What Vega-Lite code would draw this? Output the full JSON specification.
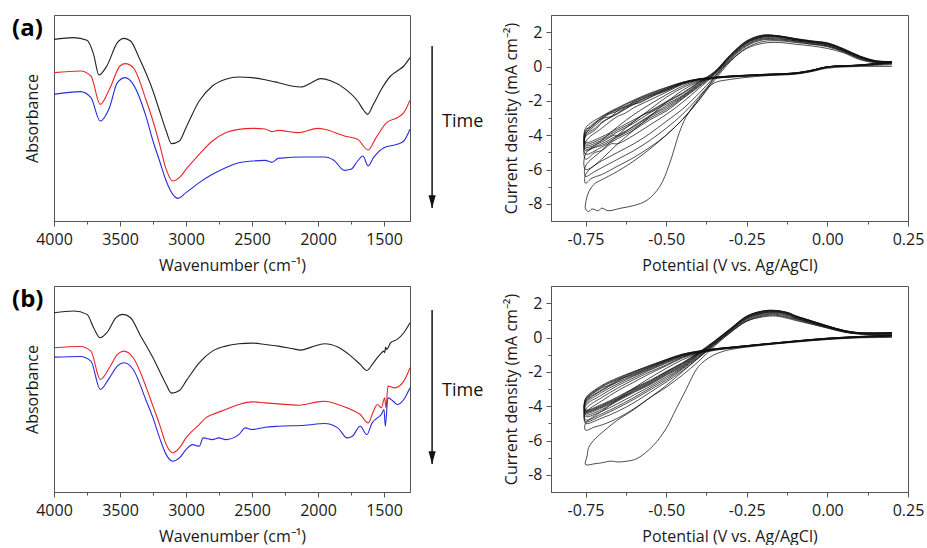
{
"$schema":"https://vega.github.io/schema/vega-lite/v6.json",
"autosize":{"type":"pad"},
"padding":{"left":12,"top":14,"right":0,"bottom":0},
"background":"white",
"config":{
"font":"Open Sans",
"view":{"stroke":"#555","strokeWidth":1},
"axis":{"domainColor":"#555","tickColor":"#555","labelColor":"#1a1a1a","titleColor":"#1a1a1a","labelFontSize":16,"titleFontSize":16,"titleFontWeight":"normal","grid":false,"labelOverlap":false,"labelFlush":false,"tickWidth":1,"domainWidth":1,"labelFont":"Open Sans","titleFont":"Open Sans"}
},
"datasets":{
"irA":[
{"s":"t1","w":4000,"a":545},{"s":"t1","w":3850,"a":550},{"s":"t1","w":3750,"a":542},{"s":"t1","w":3700,"a":500},{"s":"t1","w":3660,"a":438},{"s":"t1","w":3600,"a":465},{"s":"t1","w":3520,"a":535},{"s":"t1","w":3470,"a":548},{"s":"t1","w":3420,"a":540},{"s":"t1","w":3350,"a":485},{"s":"t1","w":3250,"a":390},{"s":"t1","w":3200,"a":330},{"s":"t1","w":3150,"a":270},{"s":"t1","w":3110,"a":232},{"s":"t1","w":3050,"a":240},{"s":"t1","w":3000,"a":280},{"s":"t1","w":2900,"a":360},{"s":"t1","w":2800,"a":405},{"s":"t1","w":2700,"a":425},{"s":"t1","w":2600,"a":432},{"s":"t1","w":2500,"a":430},{"s":"t1","w":2400,"a":424},{"s":"t1","w":2300,"a":415},{"s":"t1","w":2200,"a":405},{"s":"t1","w":2130,"a":402},{"s":"t1","w":2050,"a":415},{"s":"t1","w":1980,"a":427},{"s":"t1","w":1900,"a":420},{"s":"t1","w":1800,"a":398},{"s":"t1","w":1700,"a":360},{"s":"t1","w":1650,"a":330},{"s":"t1","w":1625,"a":320},{"s":"t1","w":1580,"a":350},{"s":"t1","w":1520,"a":395},{"s":"t1","w":1450,"a":435},{"s":"t1","w":1400,"a":450},{"s":"t1","w":1350,"a":465},{"s":"t1","w":1303,"a":490},
{"s":"t2","w":4000,"a":445},{"s":"t2","w":3800,"a":450},{"s":"t2","w":3720,"a":435},{"s":"t2","w":3650,"a":350},{"s":"t2","w":3580,"a":395},{"s":"t2","w":3500,"a":465},{"s":"t2","w":3460,"a":472},{"s":"t2","w":3400,"a":460},{"s":"t2","w":3300,"a":360},{"s":"t2","w":3250,"a":300},{"s":"t2","w":3200,"a":230},{"s":"t2","w":3150,"a":155},{"s":"t2","w":3100,"a":120},{"s":"t2","w":3050,"a":130},{"s":"t2","w":3000,"a":155},{"s":"t2","w":2900,"a":200},{"s":"t2","w":2800,"a":240},{"s":"t2","w":2700,"a":265},{"s":"t2","w":2600,"a":275},{"s":"t2","w":2500,"a":278},{"s":"t2","w":2400,"a":276},{"s":"t2","w":2350,"a":268},{"s":"t2","w":2300,"a":272},{"s":"t2","w":2150,"a":265},{"s":"t2","w":2000,"a":278},{"s":"t2","w":1950,"a":275},{"s":"t2","w":1800,"a":255},{"s":"t2","w":1700,"a":245},{"s":"t2","w":1620,"a":213},{"s":"t2","w":1560,"a":250},{"s":"t2","w":1480,"a":295},{"s":"t2","w":1400,"a":310},{"s":"t2","w":1350,"a":325},{"s":"t2","w":1303,"a":362},
{"s":"t3","w":4000,"a":380},{"s":"t3","w":3800,"a":388},{"s":"t3","w":3720,"a":370},{"s":"t3","w":3650,"a":300},{"s":"t3","w":3580,"a":340},{"s":"t3","w":3520,"a":415},{"s":"t3","w":3460,"a":430},{"s":"t3","w":3400,"a":410},{"s":"t3","w":3300,"a":310},{"s":"t3","w":3250,"a":240},{"s":"t3","w":3200,"a":180},{"s":"t3","w":3150,"a":120},{"s":"t3","w":3100,"a":80},{"s":"t3","w":3060,"a":68},{"s":"t3","w":3000,"a":85},{"s":"t3","w":2900,"a":115},{"s":"t3","w":2800,"a":140},{"s":"t3","w":2700,"a":160},{"s":"t3","w":2600,"a":175},{"s":"t3","w":2500,"a":180},{"s":"t3","w":2400,"a":182},{"s":"t3","w":2350,"a":176},{"s":"t3","w":2300,"a":188},{"s":"t3","w":2100,"a":192},{"s":"t3","w":1950,"a":192},{"s":"t3","w":1880,"a":182},{"s":"t3","w":1800,"a":152},{"s":"t3","w":1750,"a":155},{"s":"t3","w":1700,"a":180},{"s":"t3","w":1660,"a":195},{"s":"t3","w":1620,"a":165},{"s":"t3","w":1580,"a":190},{"s":"t3","w":1500,"a":220},{"s":"t3","w":1400,"a":230},{"s":"t3","w":1350,"a":240},{"s":"t3","w":1303,"a":275}
],
"irB":[
{"s":"t1","w":4000,"a":537},{"s":"t1","w":3850,"a":542},{"s":"t1","w":3750,"a":532},{"s":"t1","w":3700,"a":492},{"s":"t1","w":3650,"a":462},{"s":"t1","w":3600,"a":477},{"s":"t1","w":3530,"a":522},{"s":"t1","w":3480,"a":532},{"s":"t1","w":3420,"a":522},{"s":"t1","w":3350,"a":472},{"s":"t1","w":3250,"a":402},{"s":"t1","w":3200,"a":362},{"s":"t1","w":3150,"a":322},{"s":"t1","w":3110,"a":296},{"s":"t1","w":3050,"a":304},{"s":"t1","w":3000,"a":332},{"s":"t1","w":2900,"a":387},{"s":"t1","w":2800,"a":422},{"s":"t1","w":2700,"a":437},{"s":"t1","w":2600,"a":444},{"s":"t1","w":2500,"a":446},{"s":"t1","w":2400,"a":442},{"s":"t1","w":2300,"a":437},{"s":"t1","w":2200,"a":430},{"s":"t1","w":2130,"a":425},{"s":"t1","w":2050,"a":434},{"s":"t1","w":1950,"a":444},{"s":"t1","w":1850,"a":434},{"s":"t1","w":1750,"a":407},{"s":"t1","w":1680,"a":382},{"s":"t1","w":1630,"a":364},{"s":"t1","w":1580,"a":387},{"s":"t1","w":1530,"a":412},{"s":"t1","w":1500,"a":422},{"s":"t1","w":1495,"a":417},{"s":"t1","w":1488,"a":434},{"s":"t1","w":1480,"a":427},{"s":"t1","w":1450,"a":447},{"s":"t1","w":1400,"a":457},{"s":"t1","w":1350,"a":477},{"s":"t1","w":1303,"a":507},
{"s":"t2","w":4000,"a":432},{"s":"t2","w":3800,"a":436},{"s":"t2","w":3720,"a":422},{"s":"t2","w":3650,"a":337},{"s":"t2","w":3580,"a":372},{"s":"t2","w":3520,"a":412},{"s":"t2","w":3470,"a":422},{"s":"t2","w":3400,"a":402},{"s":"t2","w":3300,"a":312},{"s":"t2","w":3250,"a":257},{"s":"t2","w":3200,"a":202},{"s":"t2","w":3150,"a":142},{"s":"t2","w":3100,"a":117},{"s":"t2","w":3050,"a":132},{"s":"t2","w":3000,"a":162},{"s":"t2","w":2900,"a":202},{"s":"t2","w":2850,"a":222},{"s":"t2","w":2800,"a":232},{"s":"t2","w":2700,"a":247},{"s":"t2","w":2600,"a":262},{"s":"t2","w":2500,"a":270},{"s":"t2","w":2400,"a":267},{"s":"t2","w":2300,"a":264},{"s":"t2","w":2150,"a":260},{"s":"t2","w":2000,"a":270},{"s":"t2","w":1950,"a":272},{"s":"t2","w":1850,"a":262},{"s":"t2","w":1750,"a":247},{"s":"t2","w":1680,"a":232},{"s":"t2","w":1620,"a":207},{"s":"t2","w":1580,"a":242},{"s":"t2","w":1550,"a":262},{"s":"t2","w":1520,"a":252},{"s":"t2","w":1495,"a":282},{"s":"t2","w":1485,"a":252},{"s":"t2","w":1470,"a":317},{"s":"t2","w":1420,"a":312},{"s":"t2","w":1350,"a":332},{"s":"t2","w":1303,"a":372},
{"s":"t3","w":4000,"a":404},{"s":"t3","w":3800,"a":406},{"s":"t3","w":3720,"a":392},{"s":"t3","w":3650,"a":307},{"s":"t3","w":3580,"a":342},{"s":"t3","w":3520,"a":377},{"s":"t3","w":3470,"a":387},{"s":"t3","w":3400,"a":367},{"s":"t3","w":3300,"a":272},{"s":"t3","w":3250,"a":222},{"s":"t3","w":3200,"a":162},{"s":"t3","w":3150,"a":112},{"s":"t3","w":3100,"a":92},{"s":"t3","w":3050,"a":102},{"s":"t3","w":3000,"a":127},{"s":"t3","w":2950,"a":142},{"s":"t3","w":2900,"a":137},{"s":"t3","w":2870,"a":162},{"s":"t3","w":2800,"a":157},{"s":"t3","w":2750,"a":162},{"s":"t3","w":2700,"a":157},{"s":"t3","w":2600,"a":172},{"s":"t3","w":2550,"a":192},{"s":"t3","w":2500,"a":187},{"s":"t3","w":2400,"a":194},{"s":"t3","w":2300,"a":197},{"s":"t3","w":2100,"a":200},{"s":"t3","w":1950,"a":205},{"s":"t3","w":1850,"a":192},{"s":"t3","w":1780,"a":162},{"s":"t3","w":1740,"a":167},{"s":"t3","w":1680,"a":197},{"s":"t3","w":1630,"a":172},{"s":"t3","w":1590,"a":207},{"s":"t3","w":1550,"a":222},{"s":"t3","w":1520,"a":232},{"s":"t3","w":1500,"a":247},{"s":"t3","w":1490,"a":197},{"s":"t3","w":1470,"a":282},{"s":"t3","w":1430,"a":272},{"s":"t3","w":1400,"a":262},{"s":"t3","w":1350,"a":277},{"s":"t3","w":1303,"a":312}
],
"cvA":[
{"c":1,"E":0.2,"j":0},{"c":1,"E":0.1,"j":0},{"c":1,"E":0,"j":-0.1},{"c":1,"E":-0.05,"j":-0.3},{"c":1,"E":-0.1,"j":-0.45},{"c":1,"E":-0.2,"j":-0.55},{"c":1,"E":-0.3,"j":-0.75},{"c":1,"E":-0.35,"j":-0.95},{"c":1,"E":-0.38,"j":-1.4},{"c":1,"E":-0.4,"j":-1.9},{"c":1,"E":-0.42,"j":-2.4},{"c":1,"E":-0.44,"j":-3.0},{"c":1,"E":-0.46,"j":-3.9},{"c":1,"E":-0.49,"j":-5.7},{"c":1,"E":-0.52,"j":-7.0},{"c":1,"E":-0.56,"j":-7.8},{"c":1,"E":-0.6,"j":-8.1},{"c":1,"E":-0.64,"j":-8.25},{"c":1,"E":-0.68,"j":-8.4},{"c":1,"E":-0.7,"j":-8.25},{"c":1,"E":-0.71,"j":-8.4},{"c":1,"E":-0.73,"j":-8.3},{"c":1,"E":-0.74,"j":-8.45},{"c":1,"E":-0.75,"j":-8.3},{"c":1,"E":-0.748,"j":-7.8},{"c":1,"E":-0.74,"j":-7.3},{"c":1,"E":-0.73,"j":-7.0},{"c":1,"E":-0.72,"j":-6.8},{"c":1,"E":-0.7,"j":-6.6},{"c":1,"E":-0.65,"j":-6.1},{"c":1,"E":-0.6,"j":-5.5},{"c":1,"E":-0.55,"j":-4.8},{"c":1,"E":-0.5,"j":-4.0},{"c":1,"E":-0.45,"j":-3.1},{"c":1,"E":-0.4,"j":-2.0},{"c":1,"E":-0.37,"j":-1.2},{"c":1,"E":-0.35,"j":-0.6},{"c":1,"E":-0.3,"j":0.35},{"c":1,"E":-0.25,"j":1.05},{"c":1,"E":-0.2,"j":1.35},{"c":1,"E":-0.15,"j":1.4},{"c":1,"E":-0.1,"j":1.3},{"c":1,"E":-0.05,"j":1.2},{"c":1,"E":0,"j":1.05},{"c":1,"E":0.05,"j":0.8},{"c":1,"E":0.1,"j":0.4},{"c":1,"E":0.15,"j":0.22},{"c":1,"E":0.2,"j":0.2},
{"c":2,"E":0.2,"j":0.1},{"c":2,"E":0.1,"j":0.05},{"c":2,"E":0,"j":-0.05},{"c":2,"E":-0.05,"j":-0.28},{"c":2,"E":-0.1,"j":-0.42},{"c":2,"E":-0.2,"j":-0.52},{"c":2,"E":-0.3,"j":-0.62},{"c":2,"E":-0.35,"j":-0.7},{"c":2,"E":-0.4,"j":-0.9},{"c":2,"E":-0.45,"j":-1.4},{"c":2,"E":-0.5,"j":-2.1},{"c":2,"E":-0.55,"j":-2.9},{"c":2,"E":-0.6,"j":-3.7},{"c":2,"E":-0.65,"j":-4.5},{"c":2,"E":-0.7,"j":-5.4},{"c":2,"E":-0.75,"j":-6.3},{"c":2,"E":-0.75,"j":-6.8},{"c":2,"E":-0.73,"j":-6.5},{"c":2,"E":-0.7,"j":-6.3},{"c":2,"E":-0.65,"j":-5.8},{"c":2,"E":-0.6,"j":-5.3},{"c":2,"E":-0.55,"j":-4.7},{"c":2,"E":-0.5,"j":-4.0},{"c":2,"E":-0.45,"j":-3.1},{"c":2,"E":-0.4,"j":-2.0},{"c":2,"E":-0.35,"j":-0.8},{"c":2,"E":-0.3,"j":0.3},{"c":2,"E":-0.25,"j":1.1},{"c":2,"E":-0.2,"j":1.45},{"c":2,"E":-0.15,"j":1.5},{"c":2,"E":-0.1,"j":1.4},{"c":2,"E":-0.05,"j":1.3},{"c":2,"E":0,"j":1.15},{"c":2,"E":0.05,"j":0.85},{"c":2,"E":0.1,"j":0.45},{"c":2,"E":0.15,"j":0.25},{"c":2,"E":0.2,"j":0.22},
{"c":3,"E":0.2,"j":0.15},{"c":3,"E":0.1,"j":0.05},{"c":3,"E":0,"j":-0.05},{"c":3,"E":-0.05,"j":-0.27},{"c":3,"E":-0.1,"j":-0.42},{"c":3,"E":-0.2,"j":-0.5},{"c":3,"E":-0.3,"j":-0.6},{"c":3,"E":-0.35,"j":-0.68},{"c":3,"E":-0.4,"j":-0.85},{"c":3,"E":-0.45,"j":-1.25},{"c":3,"E":-0.5,"j":-1.8},{"c":3,"E":-0.55,"j":-2.5},{"c":3,"E":-0.6,"j":-3.2},{"c":3,"E":-0.65,"j":-4.0},{"c":3,"E":-0.7,"j":-4.9},{"c":3,"E":-0.75,"j":-5.8},{"c":3,"E":-0.75,"j":-6.4},{"c":3,"E":-0.72,"j":-6.1},{"c":3,"E":-0.7,"j":-5.9},{"c":3,"E":-0.65,"j":-5.4},{"c":3,"E":-0.6,"j":-4.9},{"c":3,"E":-0.55,"j":-4.3},{"c":3,"E":-0.5,"j":-3.6},{"c":3,"E":-0.45,"j":-2.8},{"c":3,"E":-0.4,"j":-1.8},{"c":3,"E":-0.35,"j":-0.7},{"c":3,"E":-0.3,"j":0.4},{"c":3,"E":-0.25,"j":1.2},{"c":3,"E":-0.2,"j":1.55},{"c":3,"E":-0.15,"j":1.55},{"c":3,"E":-0.1,"j":1.45},{"c":3,"E":-0.05,"j":1.3},{"c":3,"E":0,"j":1.2},{"c":3,"E":0.05,"j":0.88},{"c":3,"E":0.1,"j":0.48},{"c":3,"E":0.15,"j":0.25},{"c":3,"E":0.2,"j":0.22},
{"c":4,"E":0.2,"j":0.2},{"c":4,"E":0.1,"j":0.06},{"c":4,"E":0,"j":-0.04},{"c":4,"E":-0.05,"j":-0.26},{"c":4,"E":-0.1,"j":-0.41},{"c":4,"E":-0.2,"j":-0.5},{"c":4,"E":-0.3,"j":-0.6},{"c":4,"E":-0.35,"j":-0.67},{"c":4,"E":-0.4,"j":-0.8},{"c":4,"E":-0.45,"j":-1.15},{"c":4,"E":-0.5,"j":-1.65},{"c":4,"E":-0.55,"j":-2.2},{"c":4,"E":-0.6,"j":-2.8},{"c":4,"E":-0.65,"j":-3.5},{"c":4,"E":-0.7,"j":-4.3},{"c":4,"E":-0.75,"j":-5.1},{"c":4,"E":-0.75,"j":-6.0},{"c":4,"E":-0.7,"j":-5.5},{"c":4,"E":-0.65,"j":-5.0},{"c":4,"E":-0.6,"j":-4.5},{"c":4,"E":-0.55,"j":-3.9},{"c":4,"E":-0.5,"j":-3.2},{"c":4,"E":-0.45,"j":-2.5},{"c":4,"E":-0.4,"j":-1.6},{"c":4,"E":-0.35,"j":-0.6},{"c":4,"E":-0.3,"j":0.45},{"c":4,"E":-0.25,"j":1.25},{"c":4,"E":-0.2,"j":1.6},{"c":4,"E":-0.15,"j":1.6},{"c":4,"E":-0.1,"j":1.5},{"c":4,"E":-0.05,"j":1.35},{"c":4,"E":0,"j":1.2},{"c":4,"E":0.05,"j":0.9},{"c":4,"E":0.1,"j":0.5},{"c":4,"E":0.15,"j":0.28},{"c":4,"E":0.2,"j":0.24},
{"c":5,"E":0.2,"j":0.22},{"c":5,"E":0.1,"j":0.06},{"c":5,"E":0,"j":-0.04},{"c":5,"E":-0.05,"j":-0.25},{"c":5,"E":-0.1,"j":-0.4},{"c":5,"E":-0.2,"j":-0.49},{"c":5,"E":-0.3,"j":-0.59},{"c":5,"E":-0.35,"j":-0.66},{"c":5,"E":-0.4,"j":-0.78},{"c":5,"E":-0.45,"j":-1.05},{"c":5,"E":-0.5,"j":-1.5},{"c":5,"E":-0.55,"j":-1.95},{"c":5,"E":-0.6,"j":-2.4},{"c":5,"E":-0.63,"j":-2.75},{"c":5,"E":-0.65,"j":-2.9},{"c":5,"E":-0.7,"j":-3.6},{"c":5,"E":-0.75,"j":-4.4},{"c":5,"E":-0.75,"j":-5.4},{"c":5,"E":-0.72,"j":-5.0},{"c":5,"E":-0.7,"j":-4.9},{"c":5,"E":-0.67,"j":-4.5},{"c":5,"E":-0.65,"j":-4.5},{"c":5,"E":-0.6,"j":-4.0},{"c":5,"E":-0.55,"j":-3.4},{"c":5,"E":-0.5,"j":-2.8},{"c":5,"E":-0.45,"j":-2.1},{"c":5,"E":-0.4,"j":-1.3},{"c":5,"E":-0.35,"j":-0.5},{"c":5,"E":-0.3,"j":0.5},{"c":5,"E":-0.25,"j":1.3},{"c":5,"E":-0.2,"j":1.65},{"c":5,"E":-0.15,"j":1.65},{"c":5,"E":-0.1,"j":1.5},{"c":5,"E":-0.05,"j":1.4},{"c":5,"E":0,"j":1.25},{"c":5,"E":0.05,"j":0.92},{"c":5,"E":0.1,"j":0.52},{"c":5,"E":0.15,"j":0.3},{"c":5,"E":0.2,"j":0.25},
{"c":6,"E":0.2,"j":0.23},{"c":6,"E":0.1,"j":0.07},{"c":6,"E":0,"j":-0.03},{"c":6,"E":-0.05,"j":-0.25},{"c":6,"E":-0.1,"j":-0.4},{"c":6,"E":-0.2,"j":-0.49},{"c":6,"E":-0.3,"j":-0.58},{"c":6,"E":-0.35,"j":-0.66},{"c":6,"E":-0.4,"j":-0.76},{"c":6,"E":-0.45,"j":-1.0},{"c":6,"E":-0.5,"j":-1.4},{"c":6,"E":-0.53,"j":-1.6},{"c":6,"E":-0.55,"j":-1.8},{"c":6,"E":-0.6,"j":-2.2},{"c":6,"E":-0.65,"j":-2.7},{"c":6,"E":-0.7,"j":-3.3},{"c":6,"E":-0.72,"j":-3.7},{"c":6,"E":-0.75,"j":-4.1},{"c":6,"E":-0.75,"j":-5.1},{"c":6,"E":-0.7,"j":-4.7},{"c":6,"E":-0.65,"j":-4.2},{"c":6,"E":-0.6,"j":-3.7},{"c":6,"E":-0.55,"j":-3.1},{"c":6,"E":-0.5,"j":-2.6},{"c":6,"E":-0.45,"j":-1.9},{"c":6,"E":-0.4,"j":-1.2},{"c":6,"E":-0.35,"j":-0.45},{"c":6,"E":-0.3,"j":0.55},{"c":6,"E":-0.25,"j":1.35},{"c":6,"E":-0.2,"j":1.7},{"c":6,"E":-0.15,"j":1.7},{"c":6,"E":-0.1,"j":1.55},{"c":6,"E":-0.05,"j":1.4},{"c":6,"E":0,"j":1.3},{"c":6,"E":0.05,"j":0.95},{"c":6,"E":0.1,"j":0.55},{"c":6,"E":0.15,"j":0.3},{"c":6,"E":0.2,"j":0.25},
{"c":7,"E":0.2,"j":0.24},{"c":7,"E":0.1,"j":0.07},{"c":7,"E":0,"j":-0.03},{"c":7,"E":-0.05,"j":-0.24},{"c":7,"E":-0.1,"j":-0.39},{"c":7,"E":-0.2,"j":-0.48},{"c":7,"E":-0.3,"j":-0.58},{"c":7,"E":-0.35,"j":-0.65},{"c":7,"E":-0.4,"j":-0.75},{"c":7,"E":-0.45,"j":-0.98},{"c":7,"E":-0.5,"j":-1.35},{"c":7,"E":-0.52,"j":-1.5},{"c":7,"E":-0.55,"j":-1.7},{"c":7,"E":-0.6,"j":-2.15},{"c":7,"E":-0.65,"j":-2.6},{"c":7,"E":-0.68,"j":-2.8},{"c":7,"E":-0.7,"j":-3.1},{"c":7,"E":-0.73,"j":-3.6},{"c":7,"E":-0.75,"j":-3.9},{"c":7,"E":-0.75,"j":-4.8},{"c":7,"E":-0.7,"j":-4.5},{"c":7,"E":-0.65,"j":-4.0},{"c":7,"E":-0.6,"j":-3.5},{"c":7,"E":-0.55,"j":-2.9},{"c":7,"E":-0.5,"j":-2.4},{"c":7,"E":-0.45,"j":-1.8},{"c":7,"E":-0.4,"j":-1.1},{"c":7,"E":-0.35,"j":-0.4},{"c":7,"E":-0.3,"j":0.6},{"c":7,"E":-0.25,"j":1.4},{"c":7,"E":-0.2,"j":1.75},{"c":7,"E":-0.15,"j":1.75},{"c":7,"E":-0.1,"j":1.55},{"c":7,"E":-0.05,"j":1.45},{"c":7,"E":0,"j":1.3},{"c":7,"E":0.05,"j":0.98},{"c":7,"E":0.1,"j":0.58},{"c":7,"E":0.15,"j":0.3},{"c":7,"E":0.2,"j":0.25},
{"c":8,"E":0.2,"j":0.25},{"c":8,"E":0.1,"j":0.08},{"c":8,"E":0,"j":-0.02},{"c":8,"E":-0.05,"j":-0.24},{"c":8,"E":-0.1,"j":-0.39},{"c":8,"E":-0.2,"j":-0.48},{"c":8,"E":-0.3,"j":-0.57},{"c":8,"E":-0.35,"j":-0.64},{"c":8,"E":-0.4,"j":-0.74},{"c":8,"E":-0.45,"j":-0.95},{"c":8,"E":-0.5,"j":-1.3},{"c":8,"E":-0.55,"j":-1.65},{"c":8,"E":-0.6,"j":-2.05},{"c":8,"E":-0.62,"j":-2.3},{"c":8,"E":-0.65,"j":-2.5},{"c":8,"E":-0.7,"j":-3.0},{"c":8,"E":-0.75,"j":-3.8},{"c":8,"E":-0.75,"j":-4.6},{"c":8,"E":-0.7,"j":-4.3},{"c":8,"E":-0.65,"j":-3.8},{"c":8,"E":-0.6,"j":-3.3},{"c":8,"E":-0.55,"j":-2.7},{"c":8,"E":-0.5,"j":-2.2},{"c":8,"E":-0.45,"j":-1.7},{"c":8,"E":-0.4,"j":-1.0},{"c":8,"E":-0.35,"j":-0.35},{"c":8,"E":-0.3,"j":0.65},{"c":8,"E":-0.25,"j":1.45},{"c":8,"E":-0.2,"j":1.8},{"c":8,"E":-0.15,"j":1.75},{"c":8,"E":-0.1,"j":1.6},{"c":8,"E":-0.05,"j":1.45},{"c":8,"E":0,"j":1.35},{"c":8,"E":0.05,"j":1.0},{"c":8,"E":0.1,"j":0.6},{"c":8,"E":0.15,"j":0.32},{"c":8,"E":0.2,"j":0.27},
{"c":9,"E":0.2,"j":0.26},{"c":9,"E":0.1,"j":0.08},{"c":9,"E":0,"j":-0.02},{"c":9,"E":-0.05,"j":-0.23},{"c":9,"E":-0.1,"j":-0.38},{"c":9,"E":-0.2,"j":-0.47},{"c":9,"E":-0.3,"j":-0.57},{"c":9,"E":-0.35,"j":-0.64},{"c":9,"E":-0.4,"j":-0.76},{"c":9,"E":-0.45,"j":-1.02},{"c":9,"E":-0.5,"j":-1.42},{"c":9,"E":-0.55,"j":-1.8},{"c":9,"E":-0.58,"j":-2.1},{"c":9,"E":-0.6,"j":-2.2},{"c":9,"E":-0.65,"j":-2.75},{"c":9,"E":-0.7,"j":-3.25},{"c":9,"E":-0.72,"j":-3.6},{"c":9,"E":-0.75,"j":-4.0},{"c":9,"E":-0.75,"j":-4.9},{"c":9,"E":-0.72,"j":-4.7},{"c":9,"E":-0.7,"j":-4.6},{"c":9,"E":-0.65,"j":-4.1},{"c":9,"E":-0.6,"j":-3.6},{"c":9,"E":-0.55,"j":-3.0},{"c":9,"E":-0.5,"j":-2.5},{"c":9,"E":-0.45,"j":-1.85},{"c":9,"E":-0.4,"j":-1.15},{"c":9,"E":-0.35,"j":-0.42},{"c":9,"E":-0.3,"j":0.58},{"c":9,"E":-0.25,"j":1.38},{"c":9,"E":-0.2,"j":1.72},{"c":9,"E":-0.15,"j":1.72},{"c":9,"E":-0.1,"j":1.58},{"c":9,"E":-0.05,"j":1.42},{"c":9,"E":0,"j":1.28},{"c":9,"E":0.05,"j":0.97},{"c":9,"E":0.1,"j":0.56},{"c":9,"E":0.15,"j":0.31},{"c":9,"E":0.2,"j":0.26},
{"c":10,"E":0.2,"j":0.27},{"c":10,"E":0.1,"j":0.08},{"c":10,"E":0,"j":-0.02},{"c":10,"E":-0.05,"j":-0.23},{"c":10,"E":-0.1,"j":-0.38},{"c":10,"E":-0.2,"j":-0.47},{"c":10,"E":-0.3,"j":-0.56},{"c":10,"E":-0.35,"j":-0.63},{"c":10,"E":-0.4,"j":-0.74},{"c":10,"E":-0.45,"j":-0.97},{"c":10,"E":-0.5,"j":-1.32},{"c":10,"E":-0.55,"j":-1.72},{"c":10,"E":-0.6,"j":-2.1},{"c":10,"E":-0.65,"j":-2.55},{"c":10,"E":-0.67,"j":-2.9},{"c":10,"E":-0.7,"j":-3.05},{"c":10,"E":-0.75,"j":-3.95},{"c":10,"E":-0.75,"j":-4.7},{"c":10,"E":-0.7,"j":-4.4},{"c":10,"E":-0.66,"j":-4.0},{"c":10,"E":-0.65,"j":-4.05},{"c":10,"E":-0.6,"j":-3.45},{"c":10,"E":-0.55,"j":-2.85},{"c":10,"E":-0.5,"j":-2.3},{"c":10,"E":-0.45,"j":-1.75},{"c":10,"E":-0.4,"j":-1.05},{"c":10,"E":-0.35,"j":-0.38},{"c":10,"E":-0.3,"j":0.62},{"c":10,"E":-0.25,"j":1.42},{"c":10,"E":-0.2,"j":1.78},{"c":10,"E":-0.15,"j":1.78},{"c":10,"E":-0.1,"j":1.6},{"c":10,"E":-0.05,"j":1.47},{"c":10,"E":0,"j":1.33},{"c":10,"E":0.05,"j":1.0},{"c":10,"E":0.1,"j":0.58},{"c":10,"E":0.15,"j":0.31},{"c":10,"E":0.2,"j":0.27},
{"c":11,"E":0.2,"j":0.28},{"c":11,"E":0.1,"j":0.09},{"c":11,"E":0,"j":-0.02},{"c":11,"E":-0.05,"j":-0.22},{"c":11,"E":-0.1,"j":-0.37},{"c":11,"E":-0.2,"j":-0.46},{"c":11,"E":-0.3,"j":-0.56},{"c":11,"E":-0.35,"j":-0.63},{"c":11,"E":-0.4,"j":-0.73},{"c":11,"E":-0.45,"j":-0.93},{"c":11,"E":-0.5,"j":-1.25},{"c":11,"E":-0.55,"j":-1.6},{"c":11,"E":-0.6,"j":-2.0},{"c":11,"E":-0.65,"j":-2.45},{"c":11,"E":-0.7,"j":-2.95},{"c":11,"E":-0.73,"j":-3.5},{"c":11,"E":-0.75,"j":-3.7},{"c":11,"E":-0.75,"j":-4.5},{"c":11,"E":-0.7,"j":-4.2},{"c":11,"E":-0.65,"j":-3.7},{"c":11,"E":-0.6,"j":-3.2},{"c":11,"E":-0.57,"j":-2.8},{"c":11,"E":-0.55,"j":-2.65},{"c":11,"E":-0.5,"j":-2.1},{"c":11,"E":-0.45,"j":-1.6},{"c":11,"E":-0.4,"j":-0.95},{"c":11,"E":-0.35,"j":-0.32},{"c":11,"E":-0.3,"j":0.68},{"c":11,"E":-0.25,"j":1.48},{"c":11,"E":-0.2,"j":1.82},{"c":11,"E":-0.15,"j":1.78},{"c":11,"E":-0.1,"j":1.62},{"c":11,"E":-0.05,"j":1.48},{"c":11,"E":0,"j":1.36},{"c":11,"E":0.05,"j":1.02},{"c":11,"E":0.1,"j":0.6},{"c":11,"E":0.15,"j":0.33},{"c":11,"E":0.2,"j":0.28},
{"c":12,"E":0.2,"j":0.28},{"c":12,"E":0.1,"j":0.09},{"c":12,"E":0,"j":-0.01},{"c":12,"E":-0.05,"j":-0.22},{"c":12,"E":-0.1,"j":-0.37},{"c":12,"E":-0.2,"j":-0.46},{"c":12,"E":-0.3,"j":-0.55},{"c":12,"E":-0.35,"j":-0.62},{"c":12,"E":-0.4,"j":-0.72},{"c":12,"E":-0.45,"j":-0.92},{"c":12,"E":-0.5,"j":-1.22},{"c":12,"E":-0.55,"j":-1.55},{"c":12,"E":-0.6,"j":-1.95},{"c":12,"E":-0.65,"j":-2.4},{"c":12,"E":-0.7,"j":-2.9},{"c":12,"E":-0.75,"j":-3.6},{"c":12,"E":-0.75,"j":-4.4},{"c":12,"E":-0.7,"j":-4.1},{"c":12,"E":-0.65,"j":-3.6},{"c":12,"E":-0.6,"j":-3.1},{"c":12,"E":-0.55,"j":-2.6},{"c":12,"E":-0.5,"j":-2.05},{"c":12,"E":-0.45,"j":-1.55},{"c":12,"E":-0.4,"j":-0.92},{"c":12,"E":-0.35,"j":-0.3},{"c":12,"E":-0.3,"j":0.7},{"c":12,"E":-0.25,"j":1.5},{"c":12,"E":-0.2,"j":1.83},{"c":12,"E":-0.15,"j":1.78},{"c":12,"E":-0.1,"j":1.63},{"c":12,"E":-0.05,"j":1.5},{"c":12,"E":0,"j":1.38},{"c":12,"E":0.05,"j":1.04},{"c":12,"E":0.1,"j":0.62},{"c":12,"E":0.15,"j":0.34},{"c":12,"E":0.2,"j":0.29}
],
"cvB":[
{"c":1,"E":0.2,"j":0},{"c":1,"E":0.1,"j":-0.02},{"c":1,"E":0,"j":-0.12},{"c":1,"E":-0.1,"j":-0.27},{"c":1,"E":-0.2,"j":-0.45},{"c":1,"E":-0.3,"j":-0.7},{"c":1,"E":-0.33,"j":-0.85},{"c":1,"E":-0.36,"j":-1.1},{"c":1,"E":-0.4,"j":-1.7},{"c":1,"E":-0.44,"j":-3.1},{"c":1,"E":-0.47,"j":-4.2},{"c":1,"E":-0.5,"j":-5.3},{"c":1,"E":-0.54,"j":-6.3},{"c":1,"E":-0.59,"j":-7.05},{"c":1,"E":-0.62,"j":-7.2},{"c":1,"E":-0.65,"j":-7.25},{"c":1,"E":-0.67,"j":-7.2},{"c":1,"E":-0.7,"j":-7.3},{"c":1,"E":-0.72,"j":-7.35},{"c":1,"E":-0.75,"j":-7.4},{"c":1,"E":-0.745,"j":-6.9},{"c":1,"E":-0.74,"j":-6.4},{"c":1,"E":-0.72,"j":-5.9},{"c":1,"E":-0.69,"j":-5.4},{"c":1,"E":-0.65,"j":-4.8},{"c":1,"E":-0.6,"j":-4.2},{"c":1,"E":-0.55,"j":-3.5},{"c":1,"E":-0.5,"j":-2.8},{"c":1,"E":-0.45,"j":-2.0},{"c":1,"E":-0.4,"j":-1.2},{"c":1,"E":-0.35,"j":-0.45},{"c":1,"E":-0.3,"j":0.3},{"c":1,"E":-0.25,"j":0.95},{"c":1,"E":-0.2,"j":1.2},{"c":1,"E":-0.16,"j":1.25},{"c":1,"E":-0.12,"j":1.1},{"c":1,"E":-0.1,"j":1.0},{"c":1,"E":-0.05,"j":0.78},{"c":1,"E":0,"j":0.55},{"c":1,"E":0.05,"j":0.32},{"c":1,"E":0.1,"j":0.2},{"c":1,"E":0.2,"j":0.2},
{"c":2,"E":0.2,"j":0.05},{"c":2,"E":0.1,"j":0},{"c":2,"E":0,"j":-0.1},{"c":2,"E":-0.1,"j":-0.25},{"c":2,"E":-0.2,"j":-0.43},{"c":2,"E":-0.3,"j":-0.63},{"c":2,"E":-0.35,"j":-0.75},{"c":2,"E":-0.4,"j":-0.95},{"c":2,"E":-0.45,"j":-1.3},{"c":2,"E":-0.5,"j":-1.8},{"c":2,"E":-0.55,"j":-2.35},{"c":2,"E":-0.6,"j":-2.95},{"c":2,"E":-0.65,"j":-3.6},{"c":2,"E":-0.7,"j":-4.3},{"c":2,"E":-0.75,"j":-5.0},{"c":2,"E":-0.75,"j":-5.4},{"c":2,"E":-0.72,"j":-5.2},{"c":2,"E":-0.7,"j":-5.1},{"c":2,"E":-0.65,"j":-4.7},{"c":2,"E":-0.6,"j":-4.15},{"c":2,"E":-0.55,"j":-3.5},{"c":2,"E":-0.5,"j":-2.9},{"c":2,"E":-0.45,"j":-2.2},{"c":2,"E":-0.4,"j":-1.4},{"c":2,"E":-0.35,"j":-0.5},{"c":2,"E":-0.3,"j":0.3},{"c":2,"E":-0.25,"j":0.95},{"c":2,"E":-0.2,"j":1.25},{"c":2,"E":-0.16,"j":1.3},{"c":2,"E":-0.12,"j":1.15},{"c":2,"E":-0.1,"j":1.05},{"c":2,"E":-0.05,"j":0.8},{"c":2,"E":0,"j":0.56},{"c":2,"E":0.05,"j":0.33},{"c":2,"E":0.1,"j":0.21},{"c":2,"E":0.2,"j":0.21},
{"c":3,"E":0.2,"j":0.08},{"c":3,"E":0.1,"j":0.02},{"c":3,"E":0,"j":-0.08},{"c":3,"E":-0.1,"j":-0.24},{"c":3,"E":-0.2,"j":-0.42},{"c":3,"E":-0.3,"j":-0.62},{"c":3,"E":-0.35,"j":-0.72},{"c":3,"E":-0.4,"j":-0.9},{"c":3,"E":-0.45,"j":-1.2},{"c":3,"E":-0.5,"j":-1.65},{"c":3,"E":-0.55,"j":-2.1},{"c":3,"E":-0.6,"j":-2.6},{"c":3,"E":-0.65,"j":-3.1},{"c":3,"E":-0.7,"j":-3.7},{"c":3,"E":-0.75,"j":-4.4},{"c":3,"E":-0.75,"j":-5.0},{"c":3,"E":-0.7,"j":-4.7},{"c":3,"E":-0.65,"j":-4.3},{"c":3,"E":-0.6,"j":-3.8},{"c":3,"E":-0.55,"j":-3.2},{"c":3,"E":-0.5,"j":-2.6},{"c":3,"E":-0.45,"j":-1.95},{"c":3,"E":-0.4,"j":-1.2},{"c":3,"E":-0.35,"j":-0.4},{"c":3,"E":-0.3,"j":0.35},{"c":3,"E":-0.25,"j":1.0},{"c":3,"E":-0.2,"j":1.3},{"c":3,"E":-0.16,"j":1.35},{"c":3,"E":-0.12,"j":1.2},{"c":3,"E":-0.1,"j":1.1},{"c":3,"E":-0.05,"j":0.85},{"c":3,"E":0,"j":0.6},{"c":3,"E":0.05,"j":0.35},{"c":3,"E":0.1,"j":0.22},{"c":3,"E":0.2,"j":0.22},
{"c":4,"E":0.2,"j":0.09},{"c":4,"E":0.1,"j":0.02},{"c":4,"E":0,"j":-0.08},{"c":4,"E":-0.1,"j":-0.24},{"c":4,"E":-0.2,"j":-0.41},{"c":4,"E":-0.3,"j":-0.61},{"c":4,"E":-0.35,"j":-0.71},{"c":4,"E":-0.4,"j":-0.88},{"c":4,"E":-0.45,"j":-1.15},{"c":4,"E":-0.5,"j":-1.6},{"c":4,"E":-0.55,"j":-2.0},{"c":4,"E":-0.6,"j":-2.45},{"c":4,"E":-0.65,"j":-2.95},{"c":4,"E":-0.7,"j":-3.5},{"c":4,"E":-0.75,"j":-4.2},{"c":4,"E":-0.75,"j":-4.9},{"c":4,"E":-0.7,"j":-4.55},{"c":4,"E":-0.65,"j":-4.1},{"c":4,"E":-0.6,"j":-3.6},{"c":4,"E":-0.55,"j":-3.05},{"c":4,"E":-0.5,"j":-2.5},{"c":4,"E":-0.45,"j":-1.85},{"c":4,"E":-0.4,"j":-1.15},{"c":4,"E":-0.35,"j":-0.38},{"c":4,"E":-0.3,"j":0.38},{"c":4,"E":-0.25,"j":1.05},{"c":4,"E":-0.2,"j":1.35},{"c":4,"E":-0.16,"j":1.4},{"c":4,"E":-0.12,"j":1.25},{"c":4,"E":-0.1,"j":1.12},{"c":4,"E":-0.05,"j":0.86},{"c":4,"E":0,"j":0.6},{"c":4,"E":0.05,"j":0.35},{"c":4,"E":0.1,"j":0.22},{"c":4,"E":0.2,"j":0.22},
{"c":5,"E":0.2,"j":0.1},{"c":5,"E":0.1,"j":0.03},{"c":5,"E":0,"j":-0.07},{"c":5,"E":-0.1,"j":-0.23},{"c":5,"E":-0.2,"j":-0.41},{"c":5,"E":-0.3,"j":-0.6},{"c":5,"E":-0.35,"j":-0.7},{"c":5,"E":-0.4,"j":-0.86},{"c":5,"E":-0.45,"j":-1.12},{"c":5,"E":-0.5,"j":-1.5},{"c":5,"E":-0.55,"j":-1.9},{"c":5,"E":-0.6,"j":-2.35},{"c":5,"E":-0.65,"j":-2.8},{"c":5,"E":-0.7,"j":-3.35},{"c":5,"E":-0.75,"j":-4.0},{"c":5,"E":-0.75,"j":-4.8},{"c":5,"E":-0.7,"j":-4.45},{"c":5,"E":-0.65,"j":-4.0},{"c":5,"E":-0.6,"j":-3.5},{"c":5,"E":-0.55,"j":-2.95},{"c":5,"E":-0.5,"j":-2.4},{"c":5,"E":-0.45,"j":-1.8},{"c":5,"E":-0.4,"j":-1.1},{"c":5,"E":-0.35,"j":-0.35},{"c":5,"E":-0.3,"j":0.4},{"c":5,"E":-0.25,"j":1.1},{"c":5,"E":-0.2,"j":1.4},{"c":5,"E":-0.16,"j":1.45},{"c":5,"E":-0.12,"j":1.3},{"c":5,"E":-0.1,"j":1.15},{"c":5,"E":-0.05,"j":0.88},{"c":5,"E":0,"j":0.62},{"c":5,"E":0.05,"j":0.36},{"c":5,"E":0.1,"j":0.23},{"c":5,"E":0.2,"j":0.23},
{"c":6,"E":0.2,"j":0.1},{"c":6,"E":0.1,"j":0.03},{"c":6,"E":0,"j":-0.07},{"c":6,"E":-0.1,"j":-0.23},{"c":6,"E":-0.2,"j":-0.4},{"c":6,"E":-0.3,"j":-0.6},{"c":6,"E":-0.35,"j":-0.7},{"c":6,"E":-0.4,"j":-0.85},{"c":6,"E":-0.45,"j":-1.08},{"c":6,"E":-0.5,"j":-1.45},{"c":6,"E":-0.55,"j":-1.85},{"c":6,"E":-0.6,"j":-2.25},{"c":6,"E":-0.65,"j":-2.7},{"c":6,"E":-0.7,"j":-3.2},{"c":6,"E":-0.75,"j":-3.9},{"c":6,"E":-0.75,"j":-4.6},{"c":6,"E":-0.7,"j":-4.3},{"c":6,"E":-0.65,"j":-3.85},{"c":6,"E":-0.6,"j":-3.35},{"c":6,"E":-0.55,"j":-2.85},{"c":6,"E":-0.5,"j":-2.3},{"c":6,"E":-0.45,"j":-1.75},{"c":6,"E":-0.4,"j":-1.05},{"c":6,"E":-0.35,"j":-0.33},{"c":6,"E":-0.3,"j":0.42},{"c":6,"E":-0.25,"j":1.12},{"c":6,"E":-0.2,"j":1.42},{"c":6,"E":-0.16,"j":1.48},{"c":6,"E":-0.12,"j":1.32},{"c":6,"E":-0.1,"j":1.18},{"c":6,"E":-0.05,"j":0.9},{"c":6,"E":0,"j":0.63},{"c":6,"E":0.05,"j":0.37},{"c":6,"E":0.1,"j":0.24},{"c":6,"E":0.2,"j":0.24},
{"c":7,"E":0.2,"j":0.11},{"c":7,"E":0.1,"j":0.04},{"c":7,"E":0,"j":-0.06},{"c":7,"E":-0.1,"j":-0.22},{"c":7,"E":-0.2,"j":-0.4},{"c":7,"E":-0.3,"j":-0.59},{"c":7,"E":-0.35,"j":-0.69},{"c":7,"E":-0.4,"j":-0.84},{"c":7,"E":-0.45,"j":-1.05},{"c":7,"E":-0.5,"j":-1.4},{"c":7,"E":-0.55,"j":-1.8},{"c":7,"E":-0.6,"j":-2.2},{"c":7,"E":-0.65,"j":-2.6},{"c":7,"E":-0.7,"j":-3.1},{"c":7,"E":-0.75,"j":-3.8},{"c":7,"E":-0.75,"j":-4.5},{"c":7,"E":-0.7,"j":-4.2},{"c":7,"E":-0.65,"j":-3.7},{"c":7,"E":-0.6,"j":-3.2},{"c":7,"E":-0.55,"j":-2.75},{"c":7,"E":-0.5,"j":-2.2},{"c":7,"E":-0.45,"j":-1.7},{"c":7,"E":-0.4,"j":-1.0},{"c":7,"E":-0.35,"j":-0.3},{"c":7,"E":-0.3,"j":0.45},{"c":7,"E":-0.25,"j":1.15},{"c":7,"E":-0.2,"j":1.45},{"c":7,"E":-0.16,"j":1.5},{"c":7,"E":-0.12,"j":1.35},{"c":7,"E":-0.1,"j":1.2},{"c":7,"E":-0.05,"j":0.92},{"c":7,"E":0,"j":0.64},{"c":7,"E":0.05,"j":0.38},{"c":7,"E":0.1,"j":0.25},{"c":7,"E":0.2,"j":0.25},
{"c":8,"E":0.2,"j":0.12},{"c":8,"E":0.1,"j":0.04},{"c":8,"E":0,"j":-0.06},{"c":8,"E":-0.1,"j":-0.22},{"c":8,"E":-0.2,"j":-0.39},{"c":8,"E":-0.3,"j":-0.58},{"c":8,"E":-0.35,"j":-0.68},{"c":8,"E":-0.4,"j":-0.83},{"c":8,"E":-0.45,"j":-1.03},{"c":8,"E":-0.5,"j":-1.38},{"c":8,"E":-0.55,"j":-1.75},{"c":8,"E":-0.6,"j":-2.15},{"c":8,"E":-0.63,"j":-2.35},{"c":8,"E":-0.65,"j":-2.55},{"c":8,"E":-0.7,"j":-3.05},{"c":8,"E":-0.75,"j":-3.75},{"c":8,"E":-0.75,"j":-4.4},{"c":8,"E":-0.7,"j":-4.1},{"c":8,"E":-0.65,"j":-3.65},{"c":8,"E":-0.6,"j":-3.15},{"c":8,"E":-0.55,"j":-2.7},{"c":8,"E":-0.5,"j":-2.15},{"c":8,"E":-0.45,"j":-1.65},{"c":8,"E":-0.4,"j":-0.98},{"c":8,"E":-0.35,"j":-0.28},{"c":8,"E":-0.3,"j":0.47},{"c":8,"E":-0.25,"j":1.18},{"c":8,"E":-0.2,"j":1.48},{"c":8,"E":-0.16,"j":1.52},{"c":8,"E":-0.12,"j":1.38},{"c":8,"E":-0.1,"j":1.22},{"c":8,"E":-0.05,"j":0.94},{"c":8,"E":0,"j":0.65},{"c":8,"E":0.05,"j":0.39},{"c":8,"E":0.1,"j":0.26},{"c":8,"E":0.2,"j":0.26},
{"c":9,"E":0.2,"j":0.12},{"c":9,"E":0.1,"j":0.05},{"c":9,"E":0,"j":-0.05},{"c":9,"E":-0.1,"j":-0.21},{"c":9,"E":-0.2,"j":-0.39},{"c":9,"E":-0.3,"j":-0.58},{"c":9,"E":-0.35,"j":-0.68},{"c":9,"E":-0.4,"j":-0.82},{"c":9,"E":-0.45,"j":-1.02},{"c":9,"E":-0.5,"j":-1.35},{"c":9,"E":-0.55,"j":-1.72},{"c":9,"E":-0.6,"j":-2.1},{"c":9,"E":-0.65,"j":-2.5},{"c":9,"E":-0.68,"j":-2.8},{"c":9,"E":-0.7,"j":-2.95},{"c":9,"E":-0.75,"j":-3.7},{"c":9,"E":-0.75,"j":-4.35},{"c":9,"E":-0.72,"j":-4.2},{"c":9,"E":-0.7,"j":-4.05},{"c":9,"E":-0.65,"j":-3.6},{"c":9,"E":-0.6,"j":-3.1},{"c":9,"E":-0.55,"j":-2.65},{"c":9,"E":-0.5,"j":-2.1},{"c":9,"E":-0.45,"j":-1.6},{"c":9,"E":-0.4,"j":-0.95},{"c":9,"E":-0.35,"j":-0.26},{"c":9,"E":-0.3,"j":0.49},{"c":9,"E":-0.25,"j":1.2},{"c":9,"E":-0.2,"j":1.5},{"c":9,"E":-0.16,"j":1.54},{"c":9,"E":-0.12,"j":1.4},{"c":9,"E":-0.1,"j":1.24},{"c":9,"E":-0.05,"j":0.95},{"c":9,"E":0,"j":0.66},{"c":9,"E":0.05,"j":0.4},{"c":9,"E":0.1,"j":0.27},{"c":9,"E":0.2,"j":0.27},
{"c":10,"E":0.2,"j":0.13},{"c":10,"E":0.1,"j":0.05},{"c":10,"E":0,"j":-0.05},{"c":10,"E":-0.1,"j":-0.21},{"c":10,"E":-0.2,"j":-0.39},{"c":10,"E":-0.3,"j":-0.57},{"c":10,"E":-0.35,"j":-0.67},{"c":10,"E":-0.4,"j":-0.81},{"c":10,"E":-0.45,"j":-1.0},{"c":10,"E":-0.5,"j":-1.32},{"c":10,"E":-0.55,"j":-1.68},{"c":10,"E":-0.6,"j":-2.05},{"c":10,"E":-0.65,"j":-2.45},{"c":10,"E":-0.7,"j":-2.9},{"c":10,"E":-0.75,"j":-3.65},{"c":10,"E":-0.75,"j":-4.3},{"c":10,"E":-0.7,"j":-4.0},{"c":10,"E":-0.65,"j":-3.55},{"c":10,"E":-0.62,"j":-3.3},{"c":10,"E":-0.6,"j":-3.05},{"c":10,"E":-0.55,"j":-2.6},{"c":10,"E":-0.5,"j":-2.05},{"c":10,"E":-0.45,"j":-1.55},{"c":10,"E":-0.4,"j":-0.92},{"c":10,"E":-0.35,"j":-0.24},{"c":10,"E":-0.3,"j":0.5},{"c":10,"E":-0.25,"j":1.22},{"c":10,"E":-0.2,"j":1.52},{"c":10,"E":-0.16,"j":1.56},{"c":10,"E":-0.12,"j":1.42},{"c":10,"E":-0.1,"j":1.26},{"c":10,"E":-0.05,"j":0.96},{"c":10,"E":0,"j":0.67},{"c":10,"E":0.05,"j":0.41},{"c":10,"E":0.1,"j":0.27},{"c":10,"E":0.2,"j":0.27},
{"c":11,"E":0.2,"j":0.14},{"c":11,"E":0.1,"j":0.06},{"c":11,"E":0,"j":-0.04},{"c":11,"E":-0.1,"j":-0.2},{"c":11,"E":-0.2,"j":-0.38},{"c":11,"E":-0.3,"j":-0.57},{"c":11,"E":-0.35,"j":-0.66},{"c":11,"E":-0.4,"j":-0.8},{"c":11,"E":-0.45,"j":-0.98},{"c":11,"E":-0.5,"j":-1.3},{"c":11,"E":-0.55,"j":-1.65},{"c":11,"E":-0.6,"j":-2.0},{"c":11,"E":-0.65,"j":-2.4},{"c":11,"E":-0.7,"j":-2.85},{"c":11,"E":-0.75,"j":-3.6},{"c":11,"E":-0.75,"j":-4.25},{"c":11,"E":-0.7,"j":-3.95},{"c":11,"E":-0.65,"j":-3.5},{"c":11,"E":-0.6,"j":-3.0},{"c":11,"E":-0.55,"j":-2.55},{"c":11,"E":-0.5,"j":-2.0},{"c":11,"E":-0.45,"j":-1.5},{"c":11,"E":-0.4,"j":-0.9},{"c":11,"E":-0.35,"j":-0.22},{"c":11,"E":-0.3,"j":0.52},{"c":11,"E":-0.25,"j":1.24},{"c":11,"E":-0.2,"j":1.54},{"c":11,"E":-0.16,"j":1.57},{"c":11,"E":-0.12,"j":1.43},{"c":11,"E":-0.1,"j":1.27},{"c":11,"E":-0.05,"j":0.97},{"c":11,"E":0,"j":0.68},{"c":11,"E":0.05,"j":0.42},{"c":11,"E":0.1,"j":0.28},{"c":11,"E":0.2,"j":0.28},
{"c":12,"E":0.2,"j":0.14},{"c":12,"E":0.1,"j":0.06},{"c":12,"E":0,"j":-0.04},{"c":12,"E":-0.1,"j":-0.2},{"c":12,"E":-0.2,"j":-0.38},{"c":12,"E":-0.3,"j":-0.56},{"c":12,"E":-0.35,"j":-0.66},{"c":12,"E":-0.4,"j":-0.79},{"c":12,"E":-0.45,"j":-0.97},{"c":12,"E":-0.5,"j":-1.28},{"c":12,"E":-0.55,"j":-1.62},{"c":12,"E":-0.6,"j":-1.98},{"c":12,"E":-0.65,"j":-2.35},{"c":12,"E":-0.7,"j":-2.8},{"c":12,"E":-0.75,"j":-3.55},{"c":12,"E":-0.75,"j":-4.2},{"c":12,"E":-0.7,"j":-3.9},{"c":12,"E":-0.65,"j":-3.45},{"c":12,"E":-0.6,"j":-2.95},{"c":12,"E":-0.55,"j":-2.5},{"c":12,"E":-0.5,"j":-1.98},{"c":12,"E":-0.45,"j":-1.48},{"c":12,"E":-0.4,"j":-0.88},{"c":12,"E":-0.35,"j":-0.2},{"c":12,"E":-0.3,"j":0.53},{"c":12,"E":-0.25,"j":1.25},{"c":12,"E":-0.2,"j":1.55},{"c":12,"E":-0.16,"j":1.58},{"c":12,"E":-0.12,"j":1.44},{"c":12,"E":-0.1,"j":1.28},{"c":12,"E":-0.05,"j":0.98},{"c":12,"E":0,"j":0.68},{"c":12,"E":0.05,"j":0.42},{"c":12,"E":0.1,"j":0.28},{"c":12,"E":0.2,"j":0.28}
]
},
"bounds":"flush",
"spacing":271,
"vconcat":[
{"bounds":"flush","spacing":10,"hconcat":[
{"width":32,"height":206,"view":{"stroke":null},
"data":{"values":[{"label":"(a)","x":0,"y":0}]},
"mark":{"type":"text","align":"left","baseline":"top","dy":2,"fontSize":24,"fontWeight":"bold","font":"Open Sans","color":"#000"},
"encoding":{"x":{"field":"x","type":"quantitative","scale":{"domain":[0,1],"nice":false,"zero":false},"axis":null},"y":{"field":"y","type":"quantitative","scale":{"domain":[0,1],"reverse":true,"nice":false,"zero":false},"axis":null},"text":{"field":"label"}}},
{"width":356,"height":206,
"data":{"name":"irA"},
"mark":{"type":"line","strokeWidth":1.1,"interpolate":"monotone"},
"encoding":{
"x":{"field":"w","type":"quantitative","scale":{"domain":[1303,4000],"reverse":true,"nice":false,"zero":false},"axis":{"title":"Wavenumber (cm⁻¹)","values":[4000,3750,3500,3250,3000,2750,2500,2250,2000,1750,1500],"format":"d","labelExpr":"datum.value % 500 === 0 ? datum.label : ''","tickSize":{"condition":{"test":"datum.value % 500 === 0","value":5},"value":3},"labelPadding":5,"titlePadding":10}},
"y":{"field":"a","type":"quantitative","scale":{"domain":[0,618],"nice":false,"zero":false},"axis":{"title":"Absorbance","labels":false,"ticks":false,"titlePadding":14}},
"color":{"field":"s","type":"nominal","scale":{"domain":["t1","t2","t3"],"range":["#222222","#e8262a","#2a2ae0"]},"legend":null}
}},
{"width":121,"height":206,"view":{"stroke":null},
"data":{"values":[{"x":0.1,"start":0,"end":1,"label":"Time","mid":0.47}]},
"encoding":{"x":{"field":"x","type":"quantitative","scale":{"domain":[0,1],"nice":false,"zero":false},"axis":null}},
"layer":[
{"mark":{"type":"rule","strokeWidth":1.5,"color":"#111"},"encoding":{"y":{"field":"start","type":"quantitative","scale":{"domain":[-0.191,1.08],"reverse":true,"nice":false,"zero":false},"axis":null},"y2":{"field":"end"}}},
{"mark":{"type":"point","shape":"M-0.9,-3.2L0,0L0.9,-3.2Z","filled":true,"size":64,"color":"#111","opacity":1},"encoding":{"y":{"field":"end","type":"quantitative"}}},
{"mark":{"type":"text","align":"left","baseline":"middle","dx":10,"fontSize":18,"color":"#111","font":"Open Sans"},"encoding":{"y":{"field":"mid","type":"quantitative"},"text":{"field":"label"}}}
]},
{"width":357,"height":206,
"data":{"name":"cvA"},
"mark":{"type":"line","strokeWidth":0.75,"color":"#111","interpolate":"catmull-rom"},
"encoding":{
"x":{"field":"E","type":"quantitative","scale":{"domain":[-0.857,0.25],"nice":false,"zero":false},"axis":{"title":"Potential (V vs. Ag/AgCl)","values":[-0.75,-0.625,-0.5,-0.375,-0.25,-0.125,0,0.125,0.25],"labelExpr":"abs(datum.value*4-round(datum.value*4))<0.001 ? replace(format(datum.value,'.2f'),'\u2212','-') : ''","tickSize":{"condition":{"test":"abs(datum.value*4-round(datum.value*4))<0.001","value":5},"value":3},"labelPadding":5,"titlePadding":10}},
"y":{"field":"j","type":"quantitative","scale":{"domain":[-9,3],"nice":false,"zero":false},"axis":{"title":"Current density (mA cm⁻²)","values":[-8,-7,-6,-5,-4,-3,-2,-1,0,1,2],"labelExpr":"datum.value % 2 === 0 ? replace(datum.label,'\u2212','-') : ''","tickSize":{"condition":{"test":"datum.value % 2 === 0","value":5},"value":3},"labelPadding":4,"titlePadding":8}},
"detail":{"field":"c","type":"nominal"},
"order":{"value":null}
}}
]},
{"bounds":"flush","spacing":10,"hconcat":[
{"width":32,"height":206,"view":{"stroke":null},
"data":{"values":[{"label":"(b)","x":0,"y":0}]},
"mark":{"type":"text","align":"left","baseline":"top","dy":2,"fontSize":24,"fontWeight":"bold","font":"Open Sans","color":"#000"},
"encoding":{"x":{"field":"x","type":"quantitative","scale":{"domain":[0,1],"nice":false,"zero":false},"axis":null},"y":{"field":"y","type":"quantitative","scale":{"domain":[0,1],"reverse":true,"nice":false,"zero":false},"axis":null},"text":{"field":"label"}}},
{"width":356,"height":206,
"data":{"name":"irB"},
"mark":{"type":"line","strokeWidth":1.1,"interpolate":"monotone"},
"encoding":{
"x":{"field":"w","type":"quantitative","scale":{"domain":[1303,4000],"reverse":true,"nice":false,"zero":false},"axis":{"title":"Wavenumber (cm⁻¹)","values":[4000,3750,3500,3250,3000,2750,2500,2250,2000,1750,1500],"format":"d","labelExpr":"datum.value % 500 === 0 ? datum.label : ''","tickSize":{"condition":{"test":"datum.value % 500 === 0","value":5},"value":3},"labelPadding":5,"titlePadding":10}},
"y":{"field":"a","type":"quantitative","scale":{"domain":[0,617],"nice":false,"zero":false},"axis":{"title":"Absorbance","labels":false,"ticks":false,"titlePadding":14}},
"color":{"field":"s","type":"nominal","scale":{"domain":["t1","t2","t3"],"range":["#222222","#e8262a","#2a2ae0"]},"legend":null}
}},
{"width":121,"height":206,"view":{"stroke":null},
"data":{"values":[{"x":0.1,"start":0,"end":1,"label":"Time","mid":0.526}]},
"encoding":{"x":{"field":"x","type":"quantitative","scale":{"domain":[0,1],"nice":false,"zero":false},"axis":null}},
"layer":[
{"mark":{"type":"rule","strokeWidth":1.5,"color":"#111"},"encoding":{"y":{"field":"start","type":"quantitative","scale":{"domain":[-0.156,1.182],"reverse":true,"nice":false,"zero":false},"axis":null},"y2":{"field":"end"}}},
{"mark":{"type":"point","shape":"M-0.9,-3.2L0,0L0.9,-3.2Z","filled":true,"size":64,"color":"#111","opacity":1},"encoding":{"y":{"field":"end","type":"quantitative"}}},
{"mark":{"type":"text","align":"left","baseline":"middle","dx":10,"fontSize":18,"color":"#111","font":"Open Sans"},"encoding":{"y":{"field":"mid","type":"quantitative"},"text":{"field":"label"}}}
]},
{"width":357,"height":206,
"data":{"name":"cvB"},
"mark":{"type":"line","strokeWidth":0.75,"color":"#111","interpolate":"catmull-rom"},
"encoding":{
"x":{"field":"E","type":"quantitative","scale":{"domain":[-0.857,0.25],"nice":false,"zero":false},"axis":{"title":"Potential (V vs. Ag/AgCl)","values":[-0.75,-0.625,-0.5,-0.375,-0.25,-0.125,0,0.125,0.25],"labelExpr":"abs(datum.value*4-round(datum.value*4))<0.001 ? replace(format(datum.value,'.2f'),'\u2212','-') : ''","tickSize":{"condition":{"test":"abs(datum.value*4-round(datum.value*4))<0.001","value":5},"value":3},"labelPadding":5,"titlePadding":10}},
"y":{"field":"j","type":"quantitative","scale":{"domain":[-9,3],"nice":false,"zero":false},"axis":{"title":"Current density (mA cm⁻²)","values":[-8,-7,-6,-5,-4,-3,-2,-1,0,1,2],"labelExpr":"datum.value % 2 === 0 ? replace(datum.label,'\u2212','-') : ''","tickSize":{"condition":{"test":"datum.value % 2 === 0","value":5},"value":3},"labelPadding":4,"titlePadding":8}},
"detail":{"field":"c","type":"nominal"},
"order":{"value":null}
}}
]}
]
}
